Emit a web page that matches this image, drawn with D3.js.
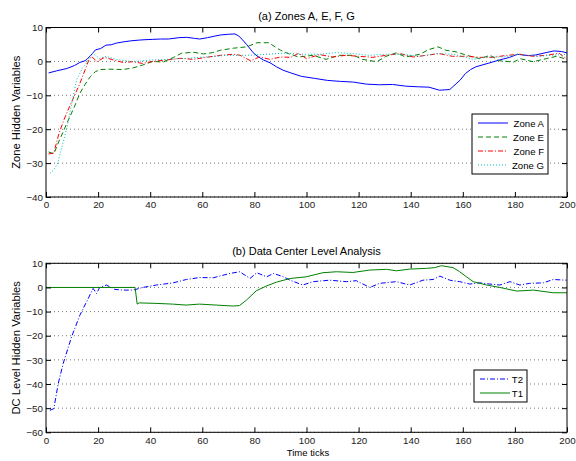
<!DOCTYPE html>
<html>
<head>
<meta charset="utf-8">
<script src="https://cdn.jsdelivr.net/npm/d3@7"></script>
<style>
  body { margin: 0; background: #fff; }
  svg { font-family: "Liberation Sans", Arial, Helvetica, sans-serif; }
  .tick text { font-size: 9.8px; fill: #222; }
</style>
</head>
<body>
<svg id="chart" width="576" height="461"></svg>
<script>
// ---- data: [time tick, value] ----
var xTicks = [0, 20, 40, 60, 80, 100, 120, 140, 160, 180, 200];
var yTicksTop = [10, 0, -10, -20, -30, -40];
var yTicksBottom = [10, 0, -10, -20, -30, -40, -50, -60];

var zoneA = [[1,-3.4],[4,-2.8],[8,-2.1],[11,-1.2],[13,-0.3],[15,0.2],[16,0.9],[17,1.6],[18,2.5],[19,3.4],[21,3.8],[23,4.8],[25,4.9],[27,5.4],[30,5.8],[33,6.1],[36,6.3],[38,6.4],[41,6.5],[44,6.6],[47,6.6],[51,7.0],[54,7.1],[57,6.8],[59,6.6],[62,7.0],[65,7.5],[67,7.8],[70,8.0],[72.5,8.1],[74,7.5],[75.5,6.3],[77,5.0],[79.5,2.6],[81,1.6],[83.5,0.4],[86,-0.4],[88.5,-1.6],[91,-2.6],[94,-3.4],[98,-4.4],[103,-5.0],[108,-5.6],[113,-5.9],[118,-6.1],[123,-6.7],[128,-6.9],[133,-6.8],[138,-7.3],[143,-7.5],[147,-7.6],[151,-8.5],[155,-8.3],[157,-6.9],[159,-5.5],[161,-3.6],[163,-2.4],[165,-1.6],[170,-0.5],[174,0.4],[178,1.2],[181,2.1],[185,1.7],[188,1.9],[192,2.6],[195,3.1],[198,2.9],[200,2.5]];

var zoneE = [[1,-26.7],[3,-27.3],[5,-23.5],[8,-18.3],[11,-13.2],[13,-9.4],[15,-6.8],[17,-4.5],[19,-3.0],[21,-2.4],[24.5,-2.3],[29.5,-2.4],[33.5,-1.9],[37,-1.1],[41,0],[45,-0.2],[49,1.2],[52,2.4],[56.5,2.7],[60.5,2.2],[64,2.6],[67,3.3],[72,3.9],[77,4.3],[81,5.5],[85.5,5.5],[90,3.3],[93,2.3],[97,1.3],[102.5,1.8],[107.5,0.6],[112.5,1.8],[118,1.8],[121.5,0.6],[127,-0.1],[130.5,1.5],[134.5,2.5],[138,1.3],[143.5,2.1],[147,3.5],[150.5,4.3],[153.5,3.3],[157.5,2.8],[161.5,1.8],[166.5,0.8],[170.5,1.8],[174,0.2],[179.5,-0.2],[182,0.8],[187,-0.1],[192,0.8],[196,1.5],[200,0.6]];

var zoneF = [[1,-27.3],[3,-27.0],[5,-21.2],[7,-17.0],[9,-13.4],[11,-10.0],[13,-6.5],[15,-2.5],[16.5,0.5],[17.5,1.5],[19.5,-0.1],[22.5,1.2],[26,0.4],[29.5,-0.3],[33.5,-0.1],[37,-0.6],[41,0],[46,0.4],[51.5,0.9],[56.5,0.6],[61.5,1.2],[67,1.8],[72,2.1],[74.5,1.8],[78.5,0.2],[82,1.3],[86,0.6],[90,1.3],[94,1.2],[97,2.4],[100,0.8],[105,2.0],[110,1.3],[115,1.8],[120,1.5],[125.5,1.2],[130.5,1.8],[136,2.3],[141,1.3],[146,1.8],[151,2.3],[156,1.5],[161.5,1.5],[166.5,1.2],[171.5,1.2],[177,1.8],[182,2.1],[187,1.5],[192,1.8],[197,2.4],[200,0.6]];

var zoneG = [[1.5,-33.0],[3,-32.0],[4.5,-30.0],[6,-25.5],[8,-19.7],[10,-12.0],[11.7,-5.5],[14,-2.0],[15.5,-0.6],[17,1.8],[18,2.4],[20.5,0.9],[23,1.5],[27,0.6],[33.5,-0.1],[40,0.4],[46,0.6],[54,0.9],[61.5,1.3],[69.5,1.8],[77,1.8],[85,2.1],[92.5,2.5],[97,2.1],[105,2.1],[111.5,2.6],[118,2.3],[124,1.8],[130.5,2.1],[137,2.1],[143.5,1.5],[150,2.3],[156.5,2.1],[164,0.6],[169,1.3],[175.5,1.3],[182,2.1],[188.5,1.5],[194.5,1.8],[200,2.1]];

var t2 = [[1.5,-50.9],[3,-50.2],[4.7,-39.8],[6.6,-31.5],[9.8,-20.5],[13,-11.5],[16.2,-4.6],[18.1,-0.4],[19.4,-2.5],[20.6,0],[23.2,1.0],[26.4,-0.8],[29.6,-1.1],[33.4,-1.1],[37.2,0],[42.4,1.0],[48.8,1.9],[53.9,3.3],[59,4.1],[64.2,4.0],[70.6,5.8],[74.4,6.5],[78.3,3.7],[80.9,6.1],[84.7,4.4],[87.3,5.8],[91.2,4.4],[93.7,3.0],[98.6,1.0],[102.5,2.4],[108.9,3.0],[115.3,2.4],[119.1,2.8],[124.3,0],[128.1,1.7],[134.5,2.4],[139.6,1.0],[144.7,3.0],[148.6,3.3],[151.2,4.7],[155,3.0],[158.8,2.4],[162.7,1.4],[166.5,1.9],[170.4,1.4],[174.2,1.0],[178.1,2.4],[181.9,1.0],[185.7,1.7],[190.9,1.9],[194.7,3.3],[199.8,3.0]];

var t1 = [[0,0],[34.2,0],[35,-6.9],[35.8,-6.4],[42.2,-6.6],[48.6,-6.9],[53.8,-7.3],[58.9,-6.9],[65.3,-7.3],[71.7,-7.7],[74.3,-7.5],[76.9,-5.3],[80.7,-1.4],[84.6,0.6],[88.5,2.2],[93.7,3.7],[99.9,4.4],[106.3,6.1],[111.5,6.5],[117.8,6.2],[124.3,7.2],[130.7,7.5],[134.5,6.9],[139.6,7.6],[146,7.9],[149.2,8.2],[151.8,9.0],[156.3,8.2],[158.8,6.5],[161.4,4.4],[164,2.4],[169.1,1.0],[174.2,0],[180.7,-1.5],[187.1,-1.1],[194.7,-2.2],[200,-2.2]];

// ---- layout ----
var app = {};
app.left = 46;
app.right = 567;
app.svg = d3.select('#chart');

app.panel = function(cfg){
  var g = app.svg.append('g');
  var x = d3.scaleLinear().domain([0, 200]).range([app.left, app.right]);
  var y = d3.scaleLinear().domain(cfg.yDomain).range([cfg.bottom, cfg.top]);

  // dotted grid
  g.selectAll('.grid')
    .data(cfg.yTicks)
    .enter().append('line')
    .attr('x1', app.left).attr('x2', app.right)
    .attr('y1', function(d){ return y(d); })
    .attr('y2', function(d){ return y(d); })
    .style('stroke', '#555')
    .style('stroke-width', 0.8)
    .style('stroke-dasharray', '1,3');

  // lines
  var line = d3.line()
    .x(function(d){ return x(d[0]); })
    .y(function(d){ return y(d[1]); });
  cfg.series.forEach(function(s){
    g.append('path')
      .datum(s.data)
      .attr('d', line)
      .style('fill', 'none')
      .style('stroke', s.color)
      .style('stroke-width', 1)
      .style('stroke-dasharray', s.dash || null);
  });

  // axes: MATLAB style inward ticks on all four sides
  var ax = g.append('g').attr('transform', 'translate(0,' + cfg.bottom + ')')
    .call(d3.axisBottom(x).tickValues(xTicks).tickSize(-5).tickPadding(4.5).tickFormat(d3.format('d')));
  var axt = g.append('g').attr('transform', 'translate(0,' + cfg.top + ')')
    .call(d3.axisTop(x).tickValues(xTicks).tickSize(-5).tickFormat(''));
  var ay = g.append('g').attr('transform', 'translate(' + app.left + ',0)')
    .call(d3.axisLeft(y).tickValues(cfg.yTicks).tickSize(-5).tickPadding(3)
      .tickFormat(function(d){ return d < 0 ? '\u2212' + Math.abs(d) : d; }));
  var ayr = g.append('g').attr('transform', 'translate(' + app.right + ',0)')
    .call(d3.axisRight(y).tickValues(cfg.yTicks).tickSize(-5).tickFormat(''));
  [ax, axt, ay, ayr].forEach(function(a){
    a.select('.domain').remove();
    a.selectAll('.tick line').style('stroke', '#000');
  });
  g.append('rect')
    .attr('x', app.left).attr('y', cfg.top)
    .attr('width', app.right - app.left).attr('height', cfg.bottom - cfg.top)
    .style('fill', 'none').style('stroke', '#000').style('stroke-width', 1);

  // title and y label
  g.append('text')
    .attr('x', (app.left + app.right) / 2).attr('y', cfg.top - 8)
    .attr('text-anchor', 'middle')
    .style('font-size', '11px')
    .text(cfg.title);
  g.append('text')
    .attr('transform', 'translate(20,' + ((cfg.top + cfg.bottom) / 2) + ') rotate(-90)')
    .attr('text-anchor', 'middle')
    .style('font-size', '11.2px')
    .text(cfg.yLabel);

  // legend
  var lg = g.append('g').attr('transform', 'translate(' + cfg.legend.x + ',' + cfg.legend.y + ')');
  lg.append('rect')
    .attr('width', cfg.legend.w).attr('height', cfg.series.length * 14 + 4)
    .style('fill', '#fff').style('stroke', '#000').style('stroke-width', 1);
  cfg.series.forEach(function(s, i){
    var yy = 9 + i * 14;
    lg.append('line')
      .attr('x1', 6).attr('x2', 36).attr('y1', yy).attr('y2', yy)
      .style('stroke', s.color).style('stroke-width', 1)
      .style('stroke-dasharray', s.dash || null);
    lg.append('text')
      .attr('x', cfg.legend.w - 4).attr('y', yy + 3.5)
      .attr('text-anchor', 'end')
      .style('font-size', '9.6px')
      .text(s.name);
  });
  return g;
};

app.panel({
  top: 27.5, bottom: 197, yDomain: [-40, 10], yTicks: yTicksTop,
  title: '(a) Zones A, E, F, G', yLabel: 'Zone Hidden Variables',
  legend: { x: 472, y: 114, w: 76 },
  series: [
    { name: 'Zone A', data: zoneA, color: '#0000ff' },
    { name: 'Zone E', data: zoneE, color: '#008000', dash: '5,3' },
    { name: 'Zone F', data: zoneF, color: '#ff0000', dash: '5,2,1,2' },
    { name: 'Zone G', data: zoneG, color: '#00bfbf', dash: '1,2' }
  ]
});

app.panel({
  top: 263.3, bottom: 432.3, yDomain: [-60, 10], yTicks: yTicksBottom,
  title: '(b) Data Center Level Analysis', yLabel: 'DC Level Hidden Variables',
  legend: { x: 474, y: 370, w: 53 },
  series: [
    { name: 'T2', data: t2, color: '#0000ff', dash: '5,2,1,2' },
    { name: 'T1', data: t1, color: '#008000' }
  ]
});

app.svg.append('text')
  .attr('x', 308).attr('y', 456)
  .attr('text-anchor', 'middle')
  .style('font-size', '9.5px')
  .text('Time ticks');
</script>
</body>
</html>
